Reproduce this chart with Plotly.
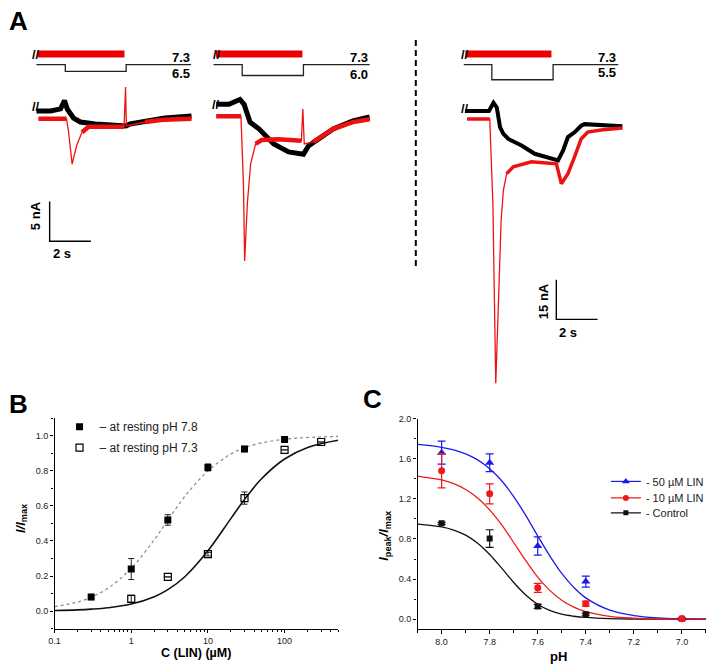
import numpy as np
import plotly.graph_objects as go

W, H = 709, 666
FONT = "Arial, Liberation Sans, sans-serif"


def px_x(x):
    return x / W


def px_y(y):
    return 1 - y / H


# ---------------- Panel A data (time in s, current in nA, pH) ----------------
s1_t_black = [0, 0.69, 1.17, 1.36, 1.5, 1.8, 2.13, 2.85, 3.81, 4.29, 4.34, 4.54, 5.26, 6.22, 7.52]
s1_i_black = [0, 0, 0.25, 1.3, 0.2, -0.9, -1.4, -1.65, -1.8, -1.9, -1.9, -1.65, -1.3, -0.9, -0.65]
s1_t_red = [0.1, 1.46, 1.55, 1.64, 1.73, 1.84, 1.97, 2.21, 2.53, 3.33, 4.25, 4.32, 4.36, 5.26, 6.22, 7.52]
s1_i_red = [-1.0, -1.0, -2.5, -5.0, -6.7, -5.5, -4.2, -2.7, -2.0, -2.0, -2.0, 3.0, -1.9, -1.4, -1.1, -1.0]

s2_t_black = [0.13, 0.75, 1.28, 1.48, 1.77, 2.2, 2.92, 3.64, 4.36, 4.6, 5.08, 5.8, 6.76, 7.57]
s2_i_black = [0, 0, 0.6, 0, -2.25, -3.1, -5.0, -6.0, -6.3, -5.25, -4.4, -3.1, -2.1, -1.6]
s2_t_red = [0.13, 1.33, 1.45, 1.51, 1.64, 1.80, 2.04, 2.34, 3.16, 4.26, 4.33, 4.4, 4.84, 5.8, 6.76, 7.57]
s2_i_red = [-1.5, -1.5, -10, -19.75, -12.5, -7.5, -5, -4.5, -4.4, -4.6, -0.6, -5, -4.75, -3.1, -2.25, -1.9]

s3_t_black = [0.06, 1.22, 1.44, 1.60, 1.76, 1.92, 2.16, 2.80, 3.44, 4.09, 4.57, 4.81, 5.05, 5.37, 5.69, 5.85, 6.65, 7.69]
s3_i_black = [0, 0, 3.1, 1.3, -6.2, -8.7, -10.6, -13.1, -16.2, -17.7, -18.7, -15.0, -9.9, -8.1, -5.6, -5.0, -5.5, -5.8]
s3_t_red = [0.16, 1.26, 1.41, 1.55, 1.68, 1.81, 1.92, 2.08, 2.40, 3.28, 4.49, 4.73, 5.05, 5.37, 5.69, 6.01, 6.65, 7.69]
s3_i_red = [-3.1, -3.1, -35, -102.9, -72.5, -41.2, -30, -23.7, -21.1, -19.2, -20.0, -27.5, -23.7, -17.4, -10.6, -8.0, -7.2, -6.5]

proto_t = [[0, 1.4, 4.35, 7.5], [0, 1.39, 4.36, 7.57], [0, 1.36, 4.33, 7.49]]
proto_ph = [[7.3, 6.5, 7.3, 7.3], [7.3, 6.0, 7.3, 7.3], [7.3, 5.5, 7.3, 7.3]]
lin_on_off = [[0.06, 4.27], [0.12, 4.31], [0.08, 4.25]]
test_ph_labels = ["6.5", "6.0", "5.5"]
rest_ph_label = "7.3"

# ---------------- Panel B data ----------------
conc_78 = [0.3, 1, 3, 10, 30, 100]
resp_78 = [0.08, 0.24, 0.52, 0.82, 0.925, 0.98]
err_78 = [0.015, 0.06, 0.03, 0.02, 0.015, 0.01]
conc_73 = [1, 3, 10, 30, 100, 300]
resp_73 = [0.07, 0.195, 0.325, 0.645, 0.92, 0.965]
err_73 = [0.02, 0.0, 0.01, 0.035, 0.0, 0.0]
fit_conc = [0.1, 0.2, 0.3, 0.5, 1, 2, 3, 5, 10, 20, 30, 50, 100, 200, 500]
fit_78 = [0.025, 0.052, 0.079, 0.131, 0.244, 0.408, 0.519, 0.654, 0.80, 0.897, 0.932, 0.96, 0.981, 0.991, 0.997]
fit_73 = [0.0033, 0.007, 0.011, 0.019, 0.04, 0.082, 0.122, 0.196, 0.344, 0.529, 0.637, 0.755, 0.868, 0.934, 0.975]
b_ticks = [0.1, 1, 10, 100]

# ---------------- Panel C data ----------------
ph_pts = [8.0, 7.8, 7.6, 7.4, 7.0]
lin50 = [1.66, 1.56, 0.73, 0.375, 0.005]
err50 = [0.115, 0.088, 0.09, 0.055, 0.01]
lin10 = [1.48, 1.25, 0.313, 0.155, 0.005]
err10 = [0.17, 0.1, 0.045, 0.025, 0.01]
ctrl = [0.956, 0.804, 0.128, 0.05, 0.005]
errc = [0.01, 0.088, 0.02, 0.01, 0.005]
fit_ph = [8.1, 8.0, 7.95, 7.9, 7.85, 7.8, 7.75, 7.7, 7.65, 7.6, 7.55, 7.5, 7.45, 7.4, 7.3, 7.2, 7.1, 7.0, 6.9]
fit50 = [1.742, 1.714, 1.688, 1.648, 1.588, 1.50, 1.38, 1.222, 1.035, 0.83, 0.632, 0.457, 0.318, 0.213, 0.09, 0.037, 0.014, 0.005, 0.002]
fit10 = [1.427, 1.388, 1.351, 1.293, 1.208, 1.09, 0.94, 0.765, 0.585, 0.42, 0.288, 0.19, 0.121, 0.076, 0.029, 0.011, 0.004, 0.0015, 0.0005]
fitc = [0.948, 0.92, 0.889, 0.838, 0.758, 0.646, 0.509, 0.366, 0.242, 0.15, 0.088, 0.05, 0.03, 0.018, 0.006, 0.002, 0.001, 0.0, 0.0]

# ---------------- layout constants ----------------
PX_PER_S = 20.8
SWEEP_START_PX = [30.7, 209.3, 461.7]
SWEEP_DOMAIN_PX = [(20, 200), (200, 380), (440, 640)]
A_Y_DOMAIN_PX = (30, 400)
BASELINE_PX = [106.7, 100.0, 106.7]
PX_PER_NA = [8.0, 8.0, 2.667]
PH_REF_PX = 60.0
PX_PER_PH = 8.5
LIN_BAR_LEVEL = 8.56
THIN_WINDOWS = [[(1.5, 2.1), (4.28, 4.4)], [(1.4, 2.0), (4.28, 4.42)], [(1.38, 1.95)]]
THICK_W = [5.0, 5.0, 4.0]
RED = "#ee1111"

fig = go.Figure()

sweeps = [
    (s1_t_black, s1_i_black, s1_t_red, s1_i_red),
    (s2_t_black, s2_i_black, s2_t_red, s2_i_red),
    (s3_t_black, s3_i_black, s3_t_red, s3_i_red),
]


def thick_version(t, i, windows):
    t = np.array(t, float)
    y = np.array(i, float)
    mask = np.zeros_like(t, bool)
    for a, b in windows:
        mask |= (t > a) & (t < b)
    y[mask] = np.nan
    return t, y


for k, (tb, ib, tr, ir) in enumerate(sweeps):
    xa, ya = f"x{k + 3}", f"y{k + 3}"
    fig.add_trace(go.Scatter(x=proto_t[k], y=proto_ph[k], mode="lines", line=dict(color="#222", width=1.3, shape="hv"),
                             xaxis=xa, yaxis="y6", showlegend=False, hoverinfo="skip"))
    fig.add_trace(go.Scatter(x=lin_on_off[k], y=[LIN_BAR_LEVEL, LIN_BAR_LEVEL], mode="lines",
                             line=dict(color="#ee0000", width=7), xaxis=xa, yaxis="y6", showlegend=False, hoverinfo="skip"))
    fig.add_trace(go.Scatter(x=tb, y=ib, mode="lines", line=dict(color="black", width=THICK_W[k]),
                             xaxis=xa, yaxis=ya, showlegend=False, hoverinfo="skip"))
    fig.add_trace(go.Scatter(x=tr, y=ir, mode="lines", line=dict(color=RED, width=1.3),
                             xaxis=xa, yaxis=ya, showlegend=False, hoverinfo="skip"))
    tt, yy = thick_version(tr, ir, THIN_WINDOWS[k])
    fig.add_trace(go.Scatter(x=tt, y=yy, mode="lines", line=dict(color=RED, width=THICK_W[k] - 0.5),
                             xaxis=xa, yaxis=ya, showlegend=False, hoverinfo="skip", connectgaps=False))

# scale bars (5 nA / 2 s on sweep 1, 15 nA / 2 s on sweep 3)
SB1 = (0.64, -16.41, 5, 2)
SB3 = (4.486, -78.75, 15, 2)
for (t0, i0, dI, dT), xa, ya in [(SB1, "x3", "y3"), (SB3, "x5", "y5")]:
    fig.add_trace(go.Scatter(x=[t0, t0, t0 + dT], y=[i0 + dI, i0, i0], mode="lines",
                             line=dict(color="black", width=1.4), xaxis=xa, yaxis=ya,
                             showlegend=False, hoverinfo="skip"))

# ---------------- Panel B traces ----------------
fig.add_trace(go.Scatter(x=fit_conc, y=fit_78, mode="lines", line=dict(color="#888", width=1.2, dash="dot", shape="spline"),
                         xaxis="x", yaxis="y", showlegend=False, hoverinfo="skip"))
fig.add_trace(go.Scatter(x=fit_conc, y=fit_73, mode="lines", line=dict(color="#111", width=1.6, shape="spline"),
                         xaxis="x", yaxis="y", showlegend=False, hoverinfo="skip"))
fig.add_trace(go.Scatter(x=conc_78, y=resp_78, mode="markers", name="– at resting pH 7.8",
                         marker=dict(symbol="square", size=7, color="black"),
                         error_y=dict(type="data", array=err_78, color="#222", thickness=1, width=3),
                         xaxis="x", yaxis="y", legend="legend"))
fig.add_trace(go.Scatter(x=conc_73, y=resp_73, mode="markers", name="– at resting pH 7.3",
                         marker=dict(symbol="square-open", size=7, color="black", line=dict(width=1.2)),
                         error_y=dict(type="data", array=err_73, color="#222", thickness=1, width=3),
                         xaxis="x", yaxis="y", legend="legend2"))

# ---------------- Panel C traces ----------------
BLUE = "#1a1aee"
C_RED = "#ee1a1a"
series_c = [
    ("- Control", ctrl, errc, fitc, "#111", "square", 6, "legend5"),
    ("- 50 µM LIN", lin50, err50, fit50, BLUE, "triangle-up", 8, "legend3"),
    ("- 10 µM LIN", lin10, err10, fit10, C_RED, "circle", 7, "legend4"),
]
for name, vals, errs, fit, col, sym, sz, lg in series_c:
    fig.add_trace(go.Scatter(x=fit_ph, y=fit, mode="lines", line=dict(color=col, width=1.3, shape="spline"),
                             xaxis="x2", yaxis="y2", showlegend=False, hoverinfo="skip"))
for name, vals, errs, fit, col, sym, sz, lg in series_c:
    fig.add_trace(go.Scatter(x=ph_pts, y=vals, mode="markers", marker=dict(symbol=sym, size=sz, color=col),
                             error_y=dict(type="data", array=errs, color=col, thickness=1.2, width=4),
                             xaxis="x2", yaxis="y2", showlegend=False))
    fig.add_trace(go.Scatter(x=[None], y=[None], mode="lines+markers", name=name,
                             line=dict(color=col, width=1.2), marker=dict(symbol=sym, size=sz - 1, color=col),
                             xaxis="x2", yaxis="y2", legend=lg))

# ---------------- Layout ----------------
tickfont = dict(family=FONT, size=9, color="#222")
axis_common = dict(showline=True, linecolor="black", linewidth=1.2, ticks="outside", ticklen=3.5, tickwidth=1.1,
                   tickcolor="black", showgrid=False, zeroline=False, tickfont=tickfont)

minor_b = [m * 10 ** e for e in range(-1, 3) for m in range(2, 10) if m * 10 ** e <= 500]

layout = dict(
    width=W, height=H, autosize=False, margin=dict(l=0, r=0, t=0, b=0, pad=0),
    paper_bgcolor="white", plot_bgcolor="rgba(0,0,0,0)",
    font=dict(family=FONT, color="black"),
    xaxis=dict(domain=[px_x(49), px_x(335)], type="log", range=[-1, np.log10(500)], anchor="y",
               tickvals=b_ticks, ticktext=["0.1", "1", "10", "100"],
               minor=dict(tickvals=minor_b, ticks="outside", ticklen=2.5, tickcolor="black"), **axis_common),
    yaxis=dict(domain=[px_y(628.3), px_y(416.5)], range=[-0.1, 1.1], anchor="x", tick0=0, dtick=0.2,
               tickformat=".1f", minor=dict(dtick=0.1, ticks="outside", ticklen=2.5, tickcolor="black"), **axis_common),
    xaxis2=dict(domain=[px_x(415.1), px_x(705.9)], range=[8.1, 6.9], anchor="y2", tick0=7.0, dtick=0.2,
                tickformat=".1f", minor=dict(dtick=0.1, ticks="outside", ticklen=2.5, tickcolor="black"), **axis_common),
    yaxis2=dict(domain=[px_y(629), px_y(416.7)], range=[-0.1, 2.0], anchor="x2", tick0=0, dtick=0.4,
                tickformat=".1f", minor=dict(dtick=0.2, ticks="outside", ticklen=2.5, tickcolor="black"), **axis_common),
    showlegend=True,
)

ya0, ya1 = A_Y_DOMAIN_PX
for k in range(3):
    d0, d1 = SWEEP_DOMAIN_PX[k]
    s = SWEEP_START_PX[k]
    layout[f"xaxis{k + 3}"] = dict(domain=[px_x(d0), px_x(d1)], range=[(d0 - s) / PX_PER_S, (d1 - s) / PX_PER_S],
                                   visible=False, anchor=f"y{k + 3}")
    b, kk = BASELINE_PX[k], PX_PER_NA[k]
    layout[f"yaxis{k + 3}"] = dict(domain=[px_y(ya1), px_y(ya0)], range=[(b - ya1) / kk, (b - ya0) / kk],
                                   visible=False, anchor=f"x{k + 3}")
layout["yaxis6"] = dict(domain=[px_y(ya1), px_y(ya0)],
                        range=[7.3 - (ya1 - PH_REF_PX) / PX_PER_PH, 7.3 + (PH_REF_PX - ya0) / PX_PER_PH],
                        visible=False, anchor="x3")

leg_common = dict(xanchor="left", yanchor="middle", bgcolor="rgba(0,0,0,0)", borderwidth=0,
                  font=dict(family=FONT, size=12, color="#222"))
layout["legend"] = dict(x=px_x(54), y=px_y(425), **leg_common)
layout["legend2"] = dict(x=px_x(54), y=px_y(446), **leg_common)
leg_c = dict(leg_common)
leg_c["font"] = dict(family=FONT, size=11, color="#222")
layout["legend3"] = dict(x=px_x(605), y=px_y(480), **leg_c)
layout["legend4"] = dict(x=px_x(605), y=px_y(496.7), **leg_c)
layout["legend5"] = dict(x=px_x(605), y=px_y(511.7), **leg_c)

anns = []


def ann(text, x, y, size=13, xanchor="center", yanchor="middle", angle=0, color="black"):
    anns.append(dict(text=text, x=px_x(x), y=px_y(y), xref="paper", yref="paper", showarrow=False,
                     xanchor=xanchor, yanchor=yanchor, textangle=angle, borderpad=0,
                     font=dict(family=FONT, size=size, color=color)))


ann("<b>A</b>", 2, 0, size=26, xanchor="left", yanchor="top")
ann("<b>B</b>", 2, 386, size=26, xanchor="left", yanchor="top")
ann("<b>C</b>", 359, 381, size=26, xanchor="left", yanchor="top")

label_right_px = [187, 366, 616]
lower_label_y = [69.5, 70.5, 68]
for k in range(3):
    ann(f"<b>{rest_ph_label}</b>", label_right_px[k], 52.5, size=13, xanchor="right")
    ann(f"<b>{test_ph_labels[k]}</b>", label_right_px[k], lower_label_y[k], size=13, xanchor="right")

for (x, y) in [(30, 50), (30, 102), (213, 50), (212, 100), (463, 50), (463, 104)]:
    ann("<b>//</b>", x, y, size=13)

ann("<b>5 nA</b>", 30, 212, size=13, angle=-90)
ann("<b>2 s</b>", 56, 250, size=13)
ann("<b>15 nA</b>", 542, 298, size=13, angle=-90)
ann("<b>2 s</b>", 567, 330, size=13)

ann("<b><i>I/I</i><sub>max</sub></b>", 15, 517, size=13, angle=-90)
ann("<b>C (LIN) (µM)</b>", 192, 653, size=12.5)
ann("<b><i>I</i><sub>peak</sub><i>/I</i><sub>max</sub></b>", 382, 535, size=13, angle=-90)
ann("<b>pH</b>", 557, 665, size=13, yanchor="bottom")

layout["annotations"] = anns
layout["shapes"] = [dict(type="line", xref="paper", yref="paper", x0=px_x(413.3), x1=px_x(413.3),
                         y0=px_y(263), y1=px_y(33), line=dict(color="black", width=2, dash="6px,4px"))]

fig.update_layout(**layout)
fig.write_html("out.html", config={"responsive": False, "displayModeBar": False},
               post_script="document.body.style.margin='0';document.body.style.overflow='hidden';")
